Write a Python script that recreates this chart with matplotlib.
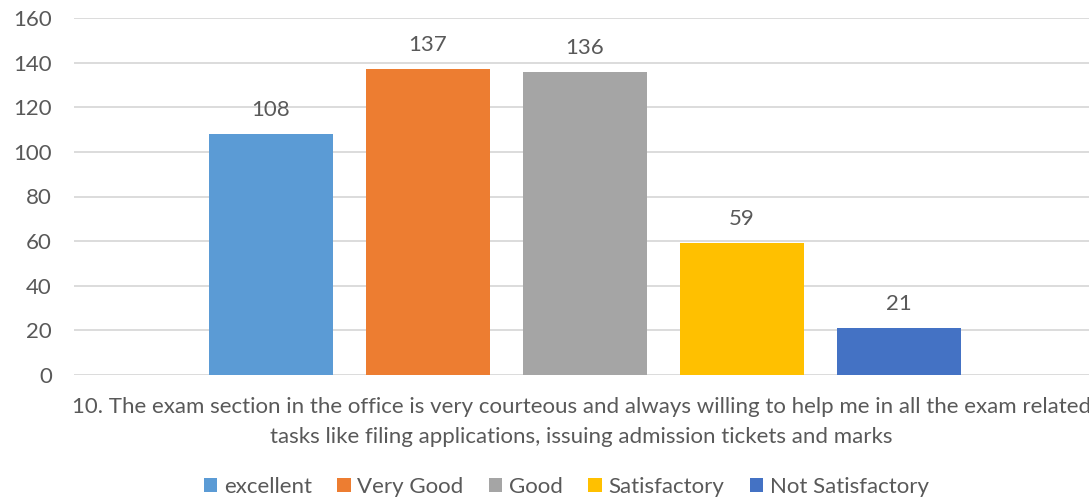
import numpy as np
import matplotlib.pyplot as plt

plt.rcParams['font.family'] = ['Lato', 'DejaVu Sans']

series = ['excellent', 'Very Good', 'Good', 'Satisfactory', 'Not Satisfactory']
values = [108, 137, 136, 59, 21]
colors = ['#5B9BD5', '#ED7D31', '#A5A5A5', '#FFC000', '#4472C4']
category = ('10. The exam section in the office is very courteous and always willing to help me in all the exam related\n'
            'tasks like filing applications, issuing admission tickets and marks')

txt = '#595959'
fs = 16
fig = plt.figure(figsize=(10.89, 5.0), dpi=100)
ax = fig.add_axes([74 / 1089, 125 / 500, 1015 / 1089, 357 / 500])

x = np.arange(len(series))
for i in range(len(series)):
    b = ax.bar(x[i], values[i], width=0.79, color=colors[i], label=series[i], zorder=3)
    ax.bar_label(b, padding=10, fontsize=fs, color=txt)

ax.set_xlim(-1.255, 5.21)
ax.set_ylim(0, 160)
ax.set_yticks(range(0, 161, 20))
ax.grid(axis='y', color='#D9D9D9', linewidth=1.3, zorder=0)
for s in ax.spines.values():
    s.set_visible(False)
ax.tick_params(axis='y', length=0, pad=16, labelsize=fs, labelcolor=txt)
ax.set_xticks([])

fig.text(0.5 * (74 + 1089) / 1089, 1 - 422 / 500, category, ha='center', va='center',
         fontsize=fs, color=txt, linespacing=1.6)

fig.legend(loc='center', bbox_to_anchor=(0.52, 1 - 487 / 500), ncol=5, frameon=False,
           fontsize=fs, labelcolor=txt, handlelength=0.6, handleheight=0.6,
           handletextpad=0.3, columnspacing=1.15)

fig.savefig('out.png', dpi=100)
